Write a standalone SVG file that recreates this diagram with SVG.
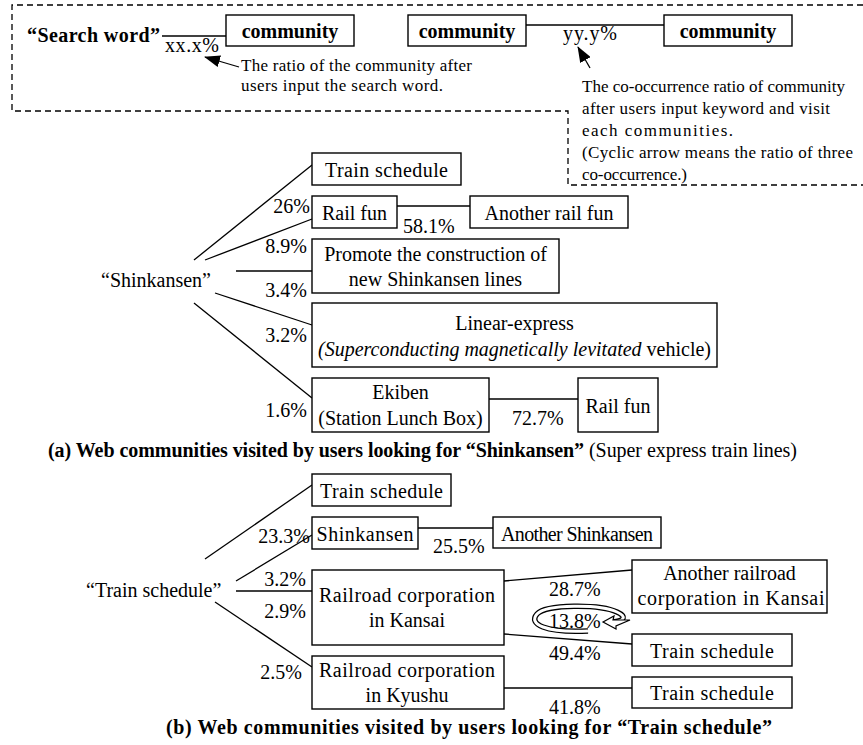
<svg xmlns="http://www.w3.org/2000/svg" width="863" height="745" viewBox="0 0 863 745">
<style>
.box{fill:#fff;stroke:#000;stroke-width:1.4}
.ln{fill:none;stroke:#000;stroke-width:1.3}
.t{font-family:"Liberation Serif","Times New Roman",serif;font-size:20px;fill:#000}
.c{text-anchor:middle}
.e{text-anchor:end}
.b{font-weight:bold}
.s{font-size:17px}
</style>
<defs>
<marker id="ah" markerWidth="16" markerHeight="12" refX="15" refY="6" orient="auto" markerUnits="userSpaceOnUse">
<path d="M0,0 L16,6 L0,12 z" fill="#000"/>
</marker>
</defs>

<g id="legend">
<path d="M863,5 H12 V111 H568 V185 H863" fill="none" stroke="#000" stroke-width="1.3" stroke-dasharray="6,4"/>
<g id="legend-search">
<text class="t b" x="27" y="42" font-size="21" textLength="133">“Search word”</text>
</g>
<g id="legend-c1">
<rect class="box" x="226" y="15" width="128" height="31"/>
<text class="t b c" x="290" y="38">community</text>
</g>
<g id="legend-c2">
<rect class="box" x="408" y="15" width="118" height="31"/>
<text class="t b c" x="467" y="38">community</text>
</g>
<g id="legend-c3">
<rect class="box" x="664" y="15" width="128" height="31"/>
<text class="t b c" x="728" y="38">community</text>
</g>
<g id="legend-notes">
<text class="t" x="165" y="52" textLength="54">xx.x%</text>
<text class="t" x="563" y="40" textLength="54">yy.y%</text>
<text class="t s" x="241" y="71" textLength="231">The ratio of the community after</text>
<text class="t s" x="241" y="91" textLength="202">users  input the search word.</text>
<text class="t s" x="582" y="92" textLength="263">The co-occurrence ratio of community</text>
<text class="t s" x="582" y="114" textLength="248">after users input keyword  and visit</text>
<text class="t s" x="582" y="136" textLength="151">each communities.</text>
<text class="t s" x="582" y="158" textLength="271">(Cyclic arrow means the ratio of three</text>
<text class="t s" x="582" y="180" textLength="105">co-occurrence.)</text>
</g>
</g>

<g id="connectors">
<line class="ln" x1="162" y1="36" x2="226" y2="36"/>
<line class="ln" x1="526" y1="25" x2="664" y2="25"/>
<line class="ln" x1="239" y1="67" x2="205" y2="57" marker-end="url(#ah)"/>
<line class="ln" x1="590" y1="68" x2="578" y2="47" marker-end="url(#ah)"/>
<!-- section a -->
<line class="ln" x1="194" y1="260" x2="312" y2="165"/>
<line class="ln" x1="205" y1="260" x2="312" y2="219"/>
<line class="ln" x1="236" y1="271" x2="312" y2="271"/>
<line class="ln" x1="215" y1="293" x2="312" y2="325"/>
<line class="ln" x1="194" y1="303" x2="312" y2="398"/>
<line class="ln" x1="397" y1="206" x2="470" y2="206"/>
<line class="ln" x1="489" y1="399" x2="578" y2="399"/>
<!-- section b -->
<line class="ln" x1="205" y1="559" x2="312" y2="485"/>
<line class="ln" x1="236" y1="581" x2="312" y2="535"/>
<line class="ln" x1="236" y1="591" x2="312" y2="591"/>
<line class="ln" x1="215" y1="602" x2="312" y2="667"/>
<line class="ln" x1="418" y1="528" x2="493" y2="528"/>
<line class="ln" x1="504" y1="581" x2="632" y2="570"/>
<line class="ln" x1="504" y1="634" x2="632" y2="644"/>
<line class="ln" x1="504" y1="688" x2="632" y2="688"/>
<!-- cyclic arrow -->
<g id="cyclic">
<path d="M588,631 C545,633 528,624 537,614 C546,604 600,604 617,612 C626,616 626,621 612,622" fill="none" stroke="#000" stroke-width="5.5"/>
<path d="M588,631 C545,633 528,624 537,614 C546,604 600,604 617,612 C626,616 626,621 612,622" fill="none" stroke="#fff" stroke-width="3"/>
<path d="M603,622 L614,616 L613,620 L630,620 L616,626 L616,629 z" fill="#fff" stroke="#000" stroke-width="1.2"/>
</g>
</g>

<g id="section-a">
<g id="a-root"><text class="t" x="101" y="287">“Shinkansen”</text></g>
<g id="a-train"><rect class="box" x="312" y="153" width="149" height="32"/><text class="t c" x="386.5" y="177" textLength="123">Train schedule</text></g>
<g id="a-railfun"><rect class="box" x="312" y="196" width="85" height="32"/><text class="t c" x="354.5" y="220">Rail fun</text></g>
<g id="a-another"><rect class="box" x="470" y="196" width="158" height="32"/><text class="t c" x="549" y="220">Another rail fun</text></g>
<g id="a-promote"><rect class="box" x="312" y="239" width="247" height="54"/><text class="t c" x="435.5" y="261">Promote the construction of</text><text class="t c" x="435.5" y="286">new Shinkansen lines</text></g>
<g id="a-linear"><rect class="box" x="312" y="303" width="405" height="64"/><text class="t c" x="514.5" y="330">Linear-express</text><text class="t c" x="514.5" y="356"><tspan font-style="italic">(Superconducting magnetically levitated</tspan> vehicle)</text></g>
<g id="a-ekiben"><rect class="box" x="312" y="378" width="177" height="54"/><text class="t c" x="400.5" y="399">Ekiben</text><text class="t c" x="400.5" y="425">(Station Lunch Box)</text></g>
<g id="a-railfun2"><rect class="box" x="578" y="378" width="80" height="54"/><text class="t c" x="618" y="413">Rail fun</text></g>
<g id="a-labels">
<text class="t e" x="310" y="213">26%</text>
<text class="t e" x="307" y="253">8.9%</text>
<text class="t e" x="307" y="297">3.4%</text>
<text class="t e" x="307" y="342">3.2%</text>
<text class="t e" x="307" y="417">1.6%</text>
<text class="t" x="403" y="233">58.1%</text>
<text class="t" x="512" y="425">72.7%</text>
</g>
<text class="t" x="48" y="457" font-size="19" textLength="749"><tspan font-weight="bold">(a) Web communities visited by users looking for “Shinkansen”</tspan> (Super express train lines)</text>
</g>

<g id="section-b">
<g id="b-root"><text class="t" x="86" y="597">“Train schedule”</text></g>
<g id="b-train"><rect class="box" x="312" y="474" width="139" height="32"/><text class="t c" x="381.5" y="498" textLength="123">Train schedule</text></g>
<g id="b-shinkansen"><rect class="box" x="312" y="517" width="106" height="32"/><text class="t c" x="365" y="541" textLength="97">Shinkansen</text></g>
<g id="b-another-shinkansen"><rect class="box" x="493" y="517" width="168" height="31"/><text class="t c" x="577" y="541" textLength="152">Another Shinkansen</text></g>
<g id="b-kansai"><rect class="box" x="312" y="570" width="192" height="75"/><text class="t c" x="407" y="602" textLength="176">Railroad corporation</text><text class="t c" x="407" y="627">in Kansai</text></g>
<g id="b-kyushu"><rect class="box" x="312" y="656" width="192" height="53"/><text class="t c" x="407" y="677" textLength="176">Railroad corporation</text><text class="t c" x="407" y="702">in Kyushu</text></g>
<g id="b-another-rail"><rect class="box" x="632" y="560" width="195" height="53"/><text class="t c" x="729.5" y="580">Another railroad</text><text class="t c" x="731" y="605" textLength="187">corporation in Kansai</text></g>
<g id="b-train2"><rect class="box" x="632" y="634" width="160" height="32"/><text class="t c" x="712" y="658" textLength="124">Train schedule</text></g>
<g id="b-train3"><rect class="box" x="632" y="677" width="160" height="31"/><text class="t c" x="712" y="700" textLength="124">Train schedule</text></g>
<g id="b-labels">
<text class="t e" x="310" y="543">23.3%</text>
<text class="t e" x="306" y="586">3.2%</text>
<text class="t e" x="306" y="618">2.9%</text>
<text class="t e" x="302" y="679">2.5%</text>
<text class="t" x="433" y="553">25.5%</text>
<text class="t" x="549" y="596">28.7%</text>
<text class="t" x="549" y="628">13.8%</text>
<text class="t" x="549" y="660">49.4%</text>
<text class="t" x="549" y="714">41.8%</text>
</g>
<text class="t b" x="166" y="734" font-size="19" textLength="606">(b) Web communities visited by users looking for “Train schedule”</text>
</g>
</svg>
